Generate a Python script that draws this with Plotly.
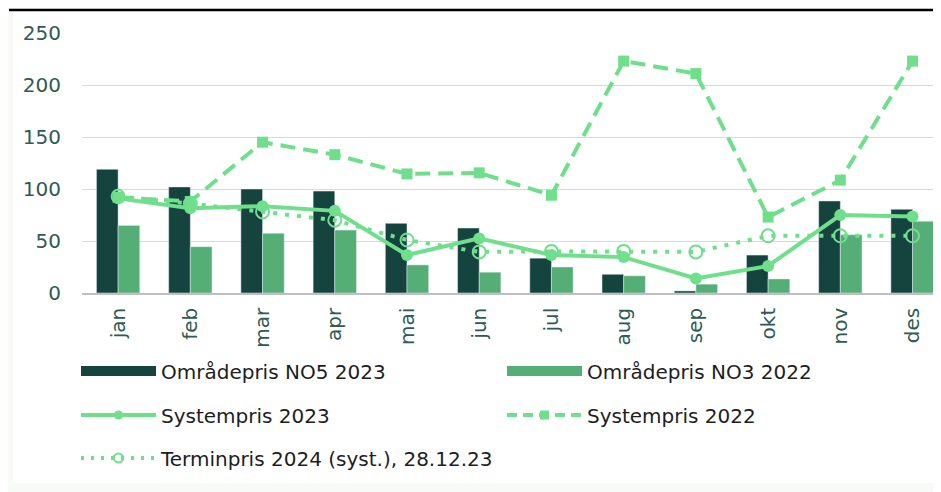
import plotly.graph_objects as go

months = ["jan", "feb", "mar", "apr", "mai", "jun", "jul", "aug", "sep", "okt", "nov", "des"]
no5_2023 = [119, 102, 100, 98, 67, 62.5, 33.5, 18, 2, 36.5, 88.5, 80.5]
no3_2022 = [65, 44.5, 57.5, 60.5, 27, 20, 25, 16.5, 8.5, 13.5, 56, 69]
sys_2023 = [91, 81.5, 83.5, 79, 36.5, 52.5, 36.5, 34.5, 14, 26, 75, 73.5]
sys_2022 = [92, 88, 145, 133, 114.5, 115.5, 94, 223, 211, 73, 108.5, 223]
termin_2024 = [93, 86, 78, 70, 51, 39.5, 40, 40, 39.5, 55, 55, 55]
yticks = [0, 50, 100, 150, 200, 250]

DARK = "#15443f"
MID = "#55ae75"
LINE = "#6fdf8b"
TXT = "#2f5a55"
FONT = "DejaVu Sans, Verdana, sans-serif"

fig = go.Figure()
fig.add_trace(go.Bar(x=months, y=no5_2023, marker_color=DARK, showlegend=False, name="Områdepris NO5 2023"))
fig.add_trace(go.Bar(x=months, y=no3_2022, marker_color=MID, showlegend=False, name="Områdepris NO3 2022"))

fig.add_trace(go.Scatter(x=months, y=sys_2022, mode="lines+markers", showlegend=False,
                         line=dict(color=LINE, width=4, dash="15px,8px"),
                         marker=dict(symbol="square", size=11, color=LINE)))
fig.add_trace(go.Scatter(x=months, y=termin_2024, mode="lines+markers", showlegend=False,
                         line=dict(color=LINE, width=4, dash="4px,8px"),
                         marker=dict(symbol="circle-open", size=13, color=LINE, line=dict(width=2, color=LINE))))
fig.add_trace(go.Scatter(x=months, y=sys_2023, mode="lines+markers", showlegend=False,
                         line=dict(color=LINE, width=4),
                         marker=dict(symbol="circle", size=12, color=LINE)))

# legend entries
fig.add_trace(go.Scatter(x=[None], y=[None], mode="lines", name="Områdepris NO5 2023",
                         line=dict(color=DARK, width=14), legend="legend"))
fig.add_trace(go.Scatter(x=[None], y=[None], mode="lines", name="Områdepris NO3 2022",
                         line=dict(color=MID, width=14), legend="legend"))
fig.add_trace(go.Scatter(x=[None], y=[None], mode="lines+markers", name="Systempris 2023",
                         line=dict(color=LINE, width=4), marker=dict(symbol="circle", size=9, color=LINE),
                         legend="legend2"))
fig.add_trace(go.Scatter(x=[None], y=[None], mode="lines+markers", name="Systempris 2022",
                         line=dict(color=LINE, width=4, dash="10px,6px"),
                         marker=dict(symbol="square", size=9, color=LINE), legend="legend2"))
fig.add_trace(go.Scatter(x=[None], y=[None], mode="lines+markers", name="Terminpris 2024 (syst.), 28.12.23",
                         line=dict(color=LINE, width=4, dash="3px,7px"),
                         marker=dict(symbol="circle-open", size=9, color=LINE, line=dict(width=2, color=LINE)),
                         legend="legend3"))

# page has an 8px body margin: figure is 933x484, placed at (8, 8) in the window
H = 260.0
def py(p):
    return (293 - p) / H
def px(p):
    return (p - 82) / 858.0

leg_common = dict(orientation="h", xanchor="left", yanchor="middle", x=-0.007,
                  itemwidth=75, entrywidth=336, entrywidthmode="pixels",
                  bgcolor="rgba(0,0,0,0)", font=dict(family=FONT, size=20, color="#1e1e1e"),
                  itemclick=False, itemdoubleclick=False)

fig.update_layout(
    width=933, height=484,
    margin=dict(l=74, r=1, t=25, b=199, autoexpand=False),
    paper_bgcolor="#f8faf7",
    plot_bgcolor="white",
    barmode="group",
    bargap=0.4,
    bargroupgap=0,
    font=dict(family=FONT, color=TXT),
    legend=dict(**leg_common, y=py(371)),
    legend2=dict(**leg_common, y=py(415)),
    legend3=dict(**leg_common, y=py(458)),
    xaxis=dict(tickangle=-90, tickfont=dict(size=20, color=TXT), showgrid=False, range=[-0.5, 11.38],
               showline=True, linecolor="#bfbfbf", linewidth=1.5, ticks="", ticklen=0,
               ticklabelstandoff=5),
    yaxis=dict(range=[0, 250], tickvals=yticks, tickfont=dict(size=20, color=TXT),
               showgrid=True, gridcolor="#d9d9d9", gridwidth=1.2, zeroline=False,
               showline=False, ticks="", ticklabelstandoff=20),
    shapes=[
        dict(type="rect", xref="paper", yref="paper", x0=px(13), x1=px(960), y0=py(483), y1=py(11),
             fillcolor="white", line=dict(width=0), layer="below"),
        dict(type="line", xref="paper", yref="paper", x0=px(9), x1=px(960), y0=py(10), y1=py(10),
             line=dict(color="black", width=2.5)),
    ],
)

fig.write_html("out.html")
